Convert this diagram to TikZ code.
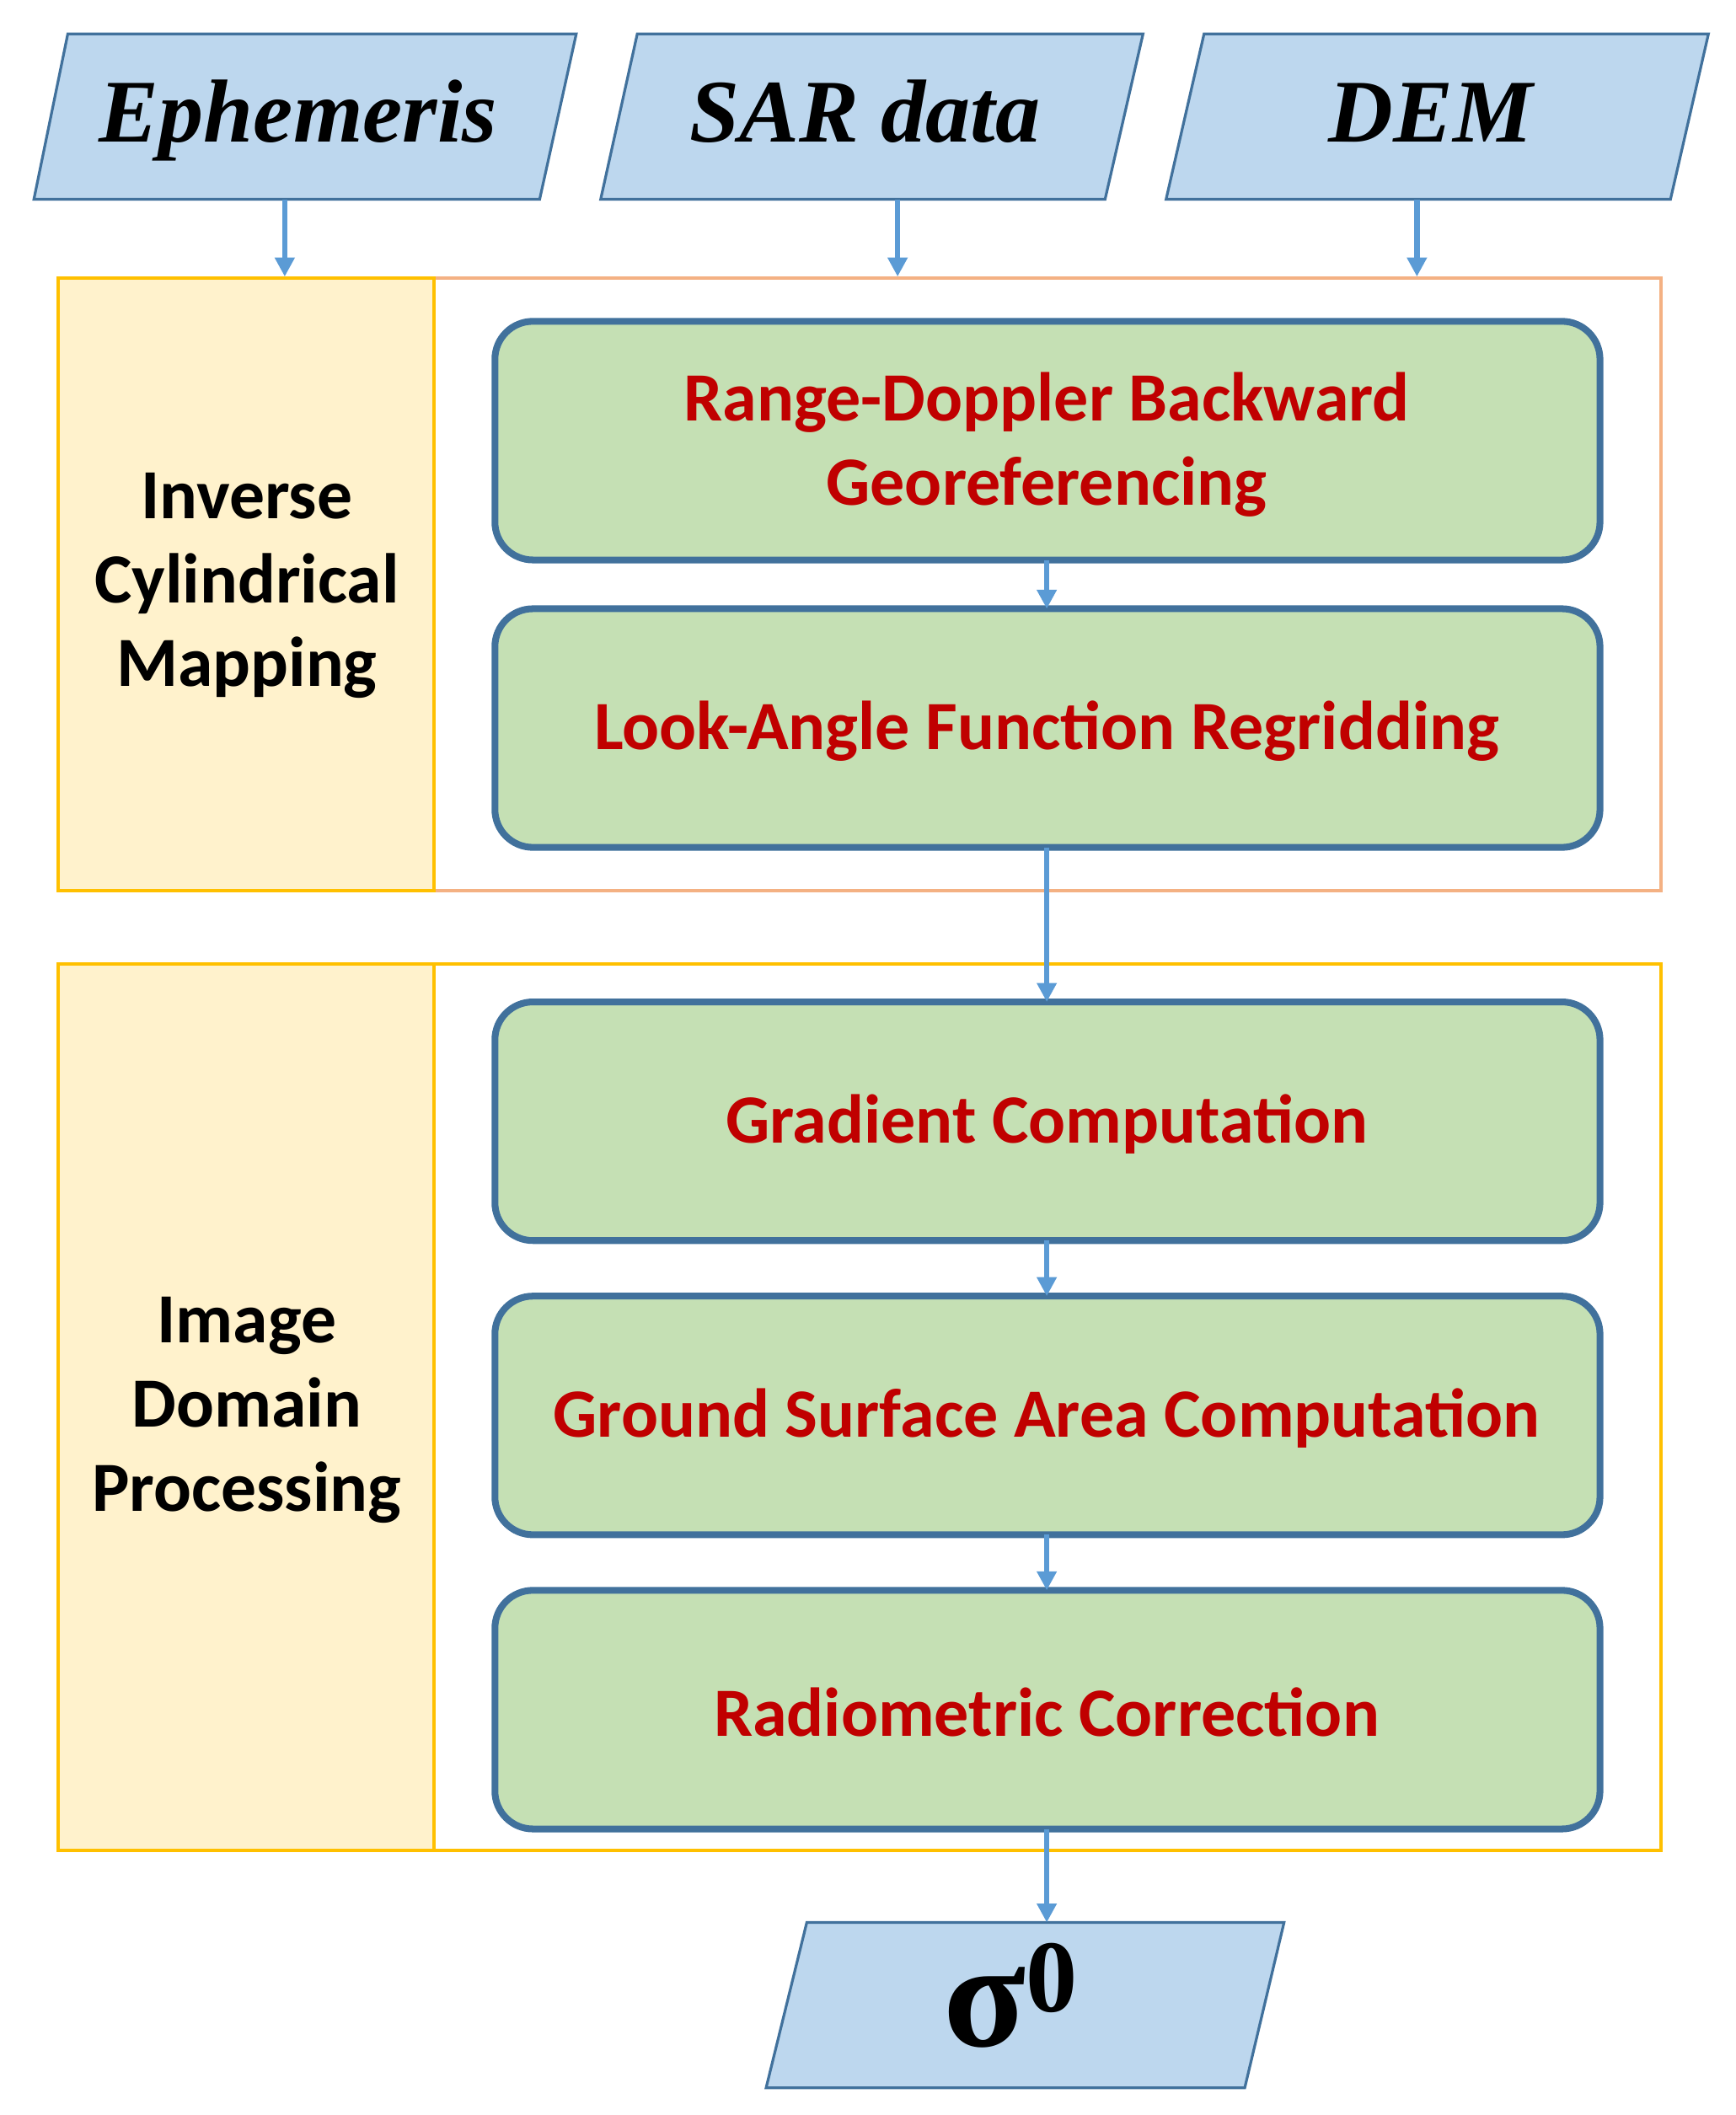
\documentclass[tikz,border=0pt]{standalone}
\usepackage{fontspec}
\setmainfont{Carlito}
\newfontfamily\serifb{Liberation Serif}
\usetikzlibrary{arrows.meta}
\definecolor{pblue}{HTML}{BDD7EE}
\definecolor{pedge}{HTML}{41719C}
\definecolor{gfill}{HTML}{C5E0B4}
\definecolor{yfill}{HTML}{FFF2CC}
\definecolor{gold}{HTML}{FFC000}
\definecolor{salmon}{HTML}{F4B183}
\definecolor{dred}{HTML}{C00000}
\definecolor{arr}{HTML}{5B9BD5}
\begin{document}
\begin{tikzpicture}[x=0.5pt,y=-0.5pt,
  para/.style={fill=pblue,draw=pedge,line width=1pt},
  proc/.style={fill=gfill,draw=pedge,line width=2.5pt,rounded corners=14pt},
  ptxt/.style={text=dred,font=\fontsize{25.5}{31}\selectfont\bfseries,align=center},
  ltxt/.style={font=\fontsize{26}{31}\selectfont\bfseries,align=center},
  itxt/.style={anchor=base,font=\fontsize{33}{36}\selectfont\serifb\bfseries\itshape},
  flow/.style={draw=arr,line width=2pt,-{Triangle[length=7pt,width=7pt]}}]
\useasboundingbox (0,0) rectangle (1280,1560);
% inputs
\draw[para] (50,25)--(425,25)--(398,147)--(25,147)--cycle;
\node[itxt] (eph) at (220,105) {Ephemeris};
\draw[para] (470,25)--(843,25)--(815,147)--(443,147)--cycle;
\node[itxt] (sar) at (638,105) {SAR data};
\draw[para] (888,25)--(1260,25)--(1232,147)--(860,147)--cycle;
\node[itxt] (dem) at (1055,105) {DEM};
\coordinate (ephb) at (210,147); \coordinate (sarb) at (662,147); \coordinate (demb) at (1045,147);
\coordinate (epht) at (210,204); \coordinate (sart) at (662,204); \coordinate (demt) at (1045,204);
% group 1
\draw[salmon,line width=1.2pt] (320,205) rectangle (1225,657);
\draw[gold,line width=1.2pt,fill=yfill] (43,205) rectangle (320,657);
\node[ltxt] (g1) at (182,432) {Inverse\\Cylindrical\\Mapping};
% group 2
\draw[gold,line width=1.2pt] (320,711) rectangle (1225,1365);
\draw[gold,line width=1.2pt,fill=yfill] (43,711) rectangle (320,1365);
\node[ltxt] (g2) at (182,1040) {Image\\Domain\\Processing};
% process boxes
\draw[proc] (365,237) rectangle (1180,413);
\node[ptxt] (p1) at (772,328) {Range-Doppler Backward\\Georeferencing};
\draw[proc] (365,449) rectangle (1180,625);
\node[ptxt] (p2) at (772,539) {Look-Angle Function Regridding};
\draw[proc] (365,739) rectangle (1180,915);
\node[ptxt] (p3) at (772,829) {Gradient Computation};
\draw[proc] (365,956) rectangle (1180,1132);
\node[ptxt] (p4) at (772,1046) {Ground Surface Area Computation};
\draw[proc] (365,1173) rectangle (1180,1349);
\node[ptxt] (p5) at (772,1263) {Radiometric Correction};
\foreach \n/\b/\t in {a/413/449,b/625/739,c/915/956,d/1132/1173,e/1349/1418}{
  \coordinate (\n1) at (772,\b); \coordinate (\n2) at (772,\t);}
% output
\draw[para] (595,1418)--(947,1418)--(918,1540)--(565,1540)--cycle;
\node[font=\fontsize{56}{60}\selectfont\serifb\bfseries] (sig) at (745,1472) {σ\raisebox{0.5ex}{\fontsize{38}{40}\selectfont 0}};
% arrows
\draw[flow] (ephb)--(epht);
\draw[flow] (sarb)--(sart);
\draw[flow] (demb)--(demt);
\foreach \n in {a,b,c,d,e}{\draw[flow] (\n1)--(\n2);}
\end{tikzpicture}
\end{document}
